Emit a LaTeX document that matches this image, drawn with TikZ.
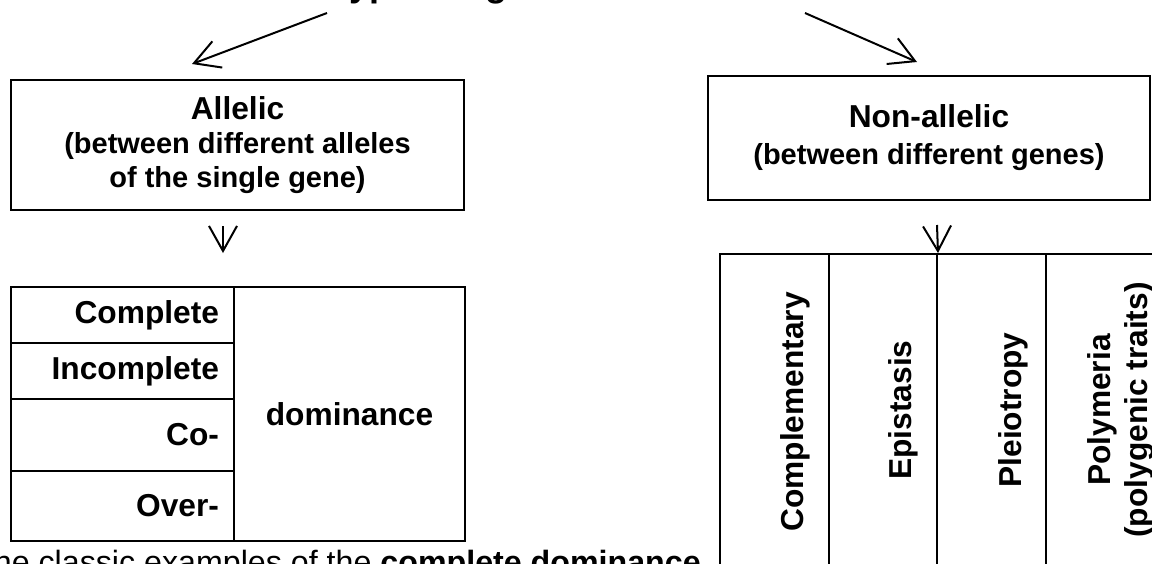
\documentclass[tikz,border=0pt]{standalone}
\usepackage{fontspec}
\setmainfont{Liberation Sans}
\usetikzlibrary{arrows.meta}

\begin{document}
\begin{tikzpicture}[x=1pt,y=-1pt,
    box/.style={draw,line width=2pt,inner sep=0pt,align=center},
    cell/.style={draw,line width=2pt,inner sep=0pt},
    lcell/.style={cell,inner xsep=15pt,text width=193pt,align=right,font=\fontsize{31.7}{36}\selectfont\bfseries},
    vtext/.style={inner sep=0pt,rotate=90,align=center,font=\fontsize{31.7}{36.5}\selectfont\bfseries},
    arr/.style={line width=2pt,-{Straight Barb[length=25pt,width=28pt]}}]
  \useasboundingbox (0,0) rectangle (1152,563);
  \clip (0,0) rectangle (1152,563);
  \node[anchor=base west,inner sep=0pt,font=\fontsize{36}{42}\selectfont\bfseries] at (330,-4) (title) {Types of gene interactions};
  \coordinate (tl) at (327,13);
  \coordinate (tr) at (805,13);
  \coordinate (al) at (192,64);
  \coordinate (nl) at (917,62);
  \node[box,minimum width=453pt,minimum height=130pt,font=\fontsize{29}{34}\selectfont\bfseries] at (237.5,145) (allelic)
    {{\fontsize{31.7}{34}\selectfont Allelic}\\(between different alleles\\of the single gene)};
  \node[box,minimum width=442pt,minimum height=124pt,font=\fontsize{29}{37}\selectfont\bfseries] at (929,138) (nonallelic)
    {{\fontsize{31.7}{37}\selectfont Non-allelic}\\(between different genes)};
  \draw[arr] (tl) -- (al);
  \draw[arr] (tr) -- (nl);
  % allelic interactions
  \node[lcell,minimum height=56pt] at (122.5,315) (complete) {Complete};
  \node[lcell,minimum height=56pt] at (122.5,371) (incomplete) {Incomplete};
  \node[lcell,minimum height=72pt] at (122.5,435) (co) {Co-};
  \node[lcell,minimum height=70pt] at (122.5,506) (over) {Over-};
  \node[cell,minimum width=231pt,minimum height=254pt,font=\fontsize{31.7}{36}\selectfont\bfseries] at (349.5,414) (dominance) {dominance};
  \coordinate (a1) at (223,226);
  \coordinate (a2) at (223,253);
  \draw[arr] (a1) -- (a2);
  % non-allelic interactions
  \node[cell,minimum width=109pt,minimum height=312pt] at (774.5,410) (compl) {};
  \node[cell,minimum width=108pt,minimum height=312pt] at (883,410) (epi) {};
  \node[cell,minimum width=109pt,minimum height=312pt] at (991.5,410) (pleio) {};
  \node[cell,minimum width=109pt,minimum height=312pt] at (1100.5,410) (poly) {};
  \node[vtext] at (795,412) (compltext) {Complementary};
  \node[vtext] at (903,410) (epitext) {Epistasis};
  \node[vtext] at (1013,410) (pleiotext) {Pleiotropy};
  \node[vtext] at (1121,410) (polytext) {Polymeria\\(polygenic traits)};
  \coordinate (n1) at (937,225);
  \draw[arr] (n1) -- (epi.north east);
  \node[anchor=base west,inner sep=0pt,font=\fontsize{32.2}{37}\selectfont] at (-26,573) (caption)
    {The classic examples of the \textbf{complete dominance}};
\end{tikzpicture}
\end{document}
